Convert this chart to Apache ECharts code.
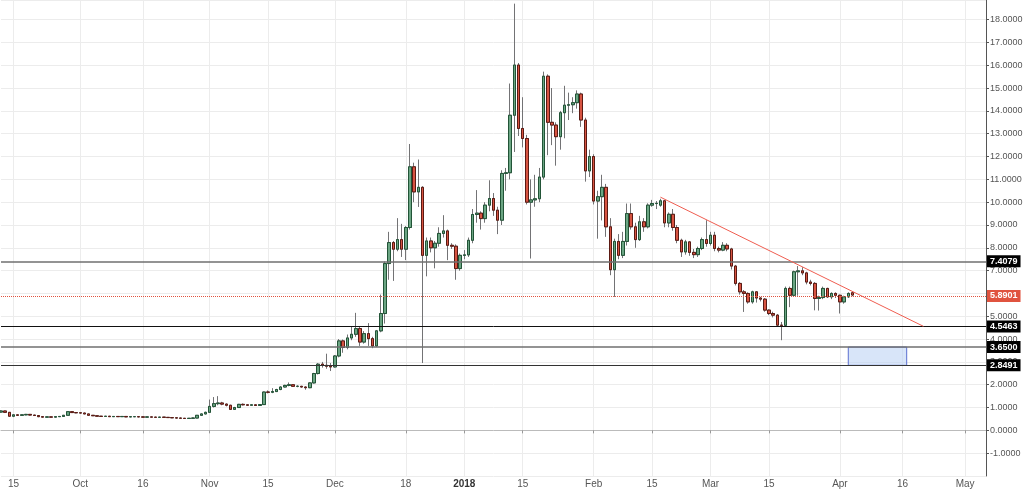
<!DOCTYPE html>
<html>
<head>
<meta charset="utf-8">
<title>Daily candles</title>
<script src="https://cdn.jsdelivr.net/npm/echarts@6/dist/echarts.min.js"></script>
<style>
  html, body { margin: 0; padding: 0; background: #fff; }
  #chart { width: 1024px; height: 491px; }
</style>
</head>
<body>
<div id="chart"></div>
<script>
// daily candles, one row per day: [open, close, low, high]
const sep17 = [
  [0.80,0.85,0.77,0.88],[0.85,0.79,0.76,0.86],[0.79,0.62,0.60,0.80],[0.62,0.68,0.58,0.70],
  [0.68,0.66,0.64,0.70],[0.66,0.68,0.64,0.70],[0.68,0.70,0.66,0.72],[0.70,0.67,0.65,0.71],
  [0.67,0.65,0.63,0.68],[0.65,0.60,0.58,0.66],[0.60,0.58,0.57,0.61],[0.58,0.59,0.57,0.60],
  [0.59,0.58,0.57,0.60],[0.58,0.60,0.57,0.61],[0.60,0.61,0.59,0.62],[0.61,0.66,0.60,0.67],
  [0.66,0.82,0.65,0.84],[0.82,0.78,0.76,0.84],[0.78,0.77,0.75,0.80]
]
const oct17 = [
  [0.77,0.76,0.74,0.79],[0.76,0.72,0.71,0.77],[0.72,0.66,0.65,0.73],[0.66,0.64,0.63,0.67],
  [0.64,0.62,0.61,0.65],[0.62,0.61,0.60,0.63],[0.61,0.62,0.60,0.63],[0.62,0.60,0.59,0.63],
  [0.60,0.61,0.59,0.62],[0.61,0.60,0.59,0.62],[0.60,0.61,0.59,0.62],[0.61,0.59,0.58,0.62],
  [0.59,0.60,0.58,0.61],[0.60,0.60,0.59,0.61],[0.60,0.59,0.58,0.61],[0.59,0.58,0.57,0.60],
  [0.58,0.59,0.57,0.60],[0.59,0.58,0.57,0.59],[0.58,0.57,0.56,0.59],[0.57,0.58,0.56,0.59],
  [0.58,0.57,0.56,0.58],[0.57,0.56,0.55,0.58],[0.56,0.55,0.54,0.57],[0.55,0.54,0.53,0.56],
  [0.54,0.53,0.52,0.55],[0.53,0.52,0.51,0.54],[0.52,0.53,0.51,0.54],[0.53,0.54,0.52,0.56],
  [0.54,0.66,0.53,0.67],[0.66,0.72,0.64,0.74],[0.72,0.79,0.70,0.82]
]
const nov17 = [
  [0.79,1.05,0.77,1.35],[1.05,1.17,1.00,1.46],[1.17,1.20,1.10,1.50],[1.20,1.15,1.10,1.25],
  [1.15,1.10,1.05,1.18],[1.10,0.92,0.90,1.12],[0.92,1.00,0.90,1.03],[1.00,1.14,0.98,1.16],
  [1.14,1.12,1.09,1.18],[1.12,1.10,1.07,1.15],[1.10,1.12,1.08,1.15],[1.12,1.09,1.07,1.15],
  [1.09,1.13,1.07,1.15],[1.13,1.68,1.12,1.70],[1.68,1.67,1.62,1.75],[1.67,1.70,1.63,1.85],
  [1.70,1.79,1.68,1.82],[1.79,1.90,1.76,1.93],[1.90,1.97,1.88,2.00],[1.97,2.00,1.93,2.10],
  [2.00,1.93,1.90,2.03],[1.93,1.93,1.89,1.97],[1.93,1.90,1.87,1.95],[1.90,1.87,1.78,1.93],
  [1.87,2.08,1.85,2.10],[2.08,2.49,2.05,2.52],[2.49,2.90,2.45,2.95],[2.90,2.85,2.75,3.00],
  [2.85,2.81,2.70,3.36],[2.81,2.78,2.60,2.95]
]
const dec17 = [
  [2.78,3.26,2.75,3.30],[3.26,3.92,3.20,4.00],[3.92,3.63,3.40,3.98],[3.63,4.05,3.55,4.20],
  [4.05,4.21,3.95,4.55],[4.21,4.46,4.10,5.15],[4.46,3.87,3.70,4.55],[3.87,4.24,3.80,4.35],
  [4.24,4.02,3.70,4.70],[4.02,3.70,3.60,4.10],[3.70,4.36,3.65,4.40],[4.36,5.12,4.30,5.95],
  [5.12,7.31,4.68,7.40],[7.31,8.23,6.60,8.70],[8.23,7.94,6.55,8.30],[7.94,8.36,7.85,9.30],
  [8.36,7.94,7.60,9.05],[7.94,8.89,7.46,8.95],[8.89,11.55,8.80,12.55],[11.55,10.45,10.00,11.73],
  [10.45,10.65,9.79,11.87],[10.65,7.67,2.95,10.70],[7.67,8.30,6.75,8.45],[8.30,8.00,7.80,8.45],
  [8.00,8.20,7.10,8.30],[8.20,8.63,8.05,8.90],[8.63,8.74,8.45,9.43],[8.74,8.11,7.46,8.80],
  [8.11,8.07,7.95,8.20],[8.07,7.09,6.60,8.15],[7.09,7.67,7.00,7.75]
]
const jan18 = [
  [7.67,7.69,7.50,7.90],[7.69,8.33,7.60,8.45],[8.33,9.46,8.20,9.70],[9.46,9.52,9.10,10.53],
  [9.52,9.28,8.80,9.60],[9.28,9.87,9.10,10.00],[9.87,10.16,9.60,10.96],[10.16,9.65,9.40,10.40],
  [9.65,9.21,8.60,9.80],[9.21,11.26,9.00,11.40],[11.26,11.29,10.50,11.50],[11.29,13.81,11.00,15.20],
  [13.81,16.01,12.20,18.70],[16.01,13.23,12.90,16.10],[13.23,12.79,12.40,14.60],[12.79,10.00,9.90,12.95],
  [10.00,10.10,7.53,11.00],[10.10,10.15,9.80,11.20],[10.15,11.10,10.00,11.50],[11.10,15.52,11.00,15.72],
  [15.52,13.50,12.06,15.60],[13.50,13.38,12.50,15.00],[13.38,12.87,11.60,13.50],[12.87,13.92,12.30,14.00],
  [13.92,14.25,12.80,15.10],[14.25,14.27,13.60,14.80],[14.27,14.36,13.90,14.60],[14.36,14.74,14.10,14.90],
  [14.74,13.60,13.30,14.80],[13.60,11.37,10.90,13.70],[11.37,12.00,11.10,12.30]
]
const feb18 = [
  [12.00,10.05,9.90,12.10],[10.05,10.24,8.40,10.50],[10.24,10.65,9.20,11.20],[10.65,8.92,8.48,10.80],
  [8.92,7.04,6.80,9.30],[7.04,8.28,5.85,8.40],[8.28,7.67,7.50,8.60],[7.67,8.28,7.55,8.70],
  [8.28,9.50,8.10,9.94],[9.50,8.92,8.80,9.94],[8.92,8.36,8.00,9.10],[8.36,9.14,8.30,9.40],
  [9.14,8.92,8.70,9.30],[8.92,9.87,8.85,9.95],[9.87,9.94,9.80,10.10],[9.94,9.95,9.70,10.05],
  [9.87,10.06,9.80,10.15],[10.06,9.09,8.90,10.10],[9.09,9.47,8.90,9.55],[9.47,8.89,8.75,9.70],
  [8.89,8.33,8.20,9.00],[8.33,7.82,7.60,8.40],[7.82,8.26,7.70,8.35],[8.26,7.80,7.65,8.30],
  [7.80,7.70,7.55,7.95],[7.70,7.97,7.60,8.05],[7.97,8.36,7.90,8.45],[8.36,8.19,8.05,9.21]
]
const mar18 = [
  [8.19,8.55,8.10,8.70],[8.55,7.97,7.85,8.70],[7.97,7.90,7.80,8.05],[7.90,8.11,7.85,8.25],
  [8.11,7.95,7.85,8.20],[7.95,7.20,7.05,8.00],[7.20,6.44,6.35,7.25],[6.44,6.07,5.95,6.50],
  [6.07,6.00,5.19,6.15],[6.00,5.63,5.55,6.05],[5.63,6.07,5.55,6.12],[6.07,5.80,5.60,6.10],
  [5.80,5.75,5.65,5.85],[5.75,5.27,5.20,5.80],[5.27,5.12,5.05,5.30],[5.12,5.05,4.95,5.20],
  [5.05,4.61,4.55,5.10],[4.61,4.60,3.95,4.75],[4.60,6.22,4.55,6.30],[6.22,5.92,5.40,6.30],
  [5.92,6.95,5.85,7.00],[6.95,6.99,5.90,7.20],[6.99,6.90,6.80,7.15],[6.90,6.50,6.40,6.95],
  [6.50,6.44,6.35,6.60],[6.44,5.78,5.26,6.50],[5.78,5.82,5.25,5.90],[5.82,6.22,5.75,6.30],
  [6.22,5.85,5.80,6.25],[5.85,6.00,5.75,6.05],[6.00,5.92,5.80,6.05]
]
const apr18 = [
  [5.92,5.63,5.12,5.95],[5.63,5.85,5.55,5.90],[5.85,6.00,5.80,6.05],[6.03,5.93,5.88,6.08]
]

// horizontal levels drawn on the chart
const levels = [7.4079, 4.5463, 3.6500, 2.8491]
const lastPrice = 5.8901
// falling trend line and target box: [date, price]
const trendLine = [['2018-02-17', 10.22], ['2018-04-21', 4.56]]
const targetBox = [['2018-04-03', 3.6500], ['2018-04-17', 2.8491]]
// date ticks on the time axis
const tickLabels = [
  ['2017-09-15', '15'], ['2017-10-01', 'Oct'], ['2017-10-16', '16'], ['2017-11-01', 'Nov'],
  ['2017-11-15', '15'], ['2017-12-01', 'Dec'], ['2017-12-18', '18'], ['2018-01-01', '2018'],
  ['2018-01-15', '15'], ['2018-02-01', 'Feb'], ['2018-02-15', '15'], ['2018-03-01', 'Mar'],
  ['2018-03-15', '15'], ['2018-04-01', 'Apr'], ['2018-04-16', '16'], ['2018-05-01', 'May']
]

const candles = [].concat(sep17, oct17, nov17, dec17, jan18, feb18, mar18, apr18)
// bodies only, so the wicks can be drawn grey underneath
const bodies = candles.map(([o, c]) => [o, c, Math.min(o, c), Math.max(o, c)])

// one category per calendar day, running past the last candle
const days = []
for (let i = 0; i <= 236; i++) {
  days.push(new Date(Date.UTC(2017, 8, 12 + i)).toISOString().slice(0, 10))
}
const tickMap = {}
tickLabels.forEach(([d, t]) => { tickMap[d] = t })
const isTick = (idx, val) => tickMap[val] !== undefined

const levelColors = ['#6f6f6f', '#111111', '#6f6f6f', '#333333']
const levelWidths = [1.5, 1, 1.5, 1.2]
const tagLabel = (bg, v) => ({
  show: true,
  position: 'end',
  distance: 1,
  backgroundColor: bg,
  color: '#fff',
  fontSize: 9,
  fontWeight: 'bold',
  padding: [2, 3, 1, 3],
  formatter: () => v.toFixed(4)
})

const lines = levels.map((v, k) => ({
  yAxis: v,
  lineStyle: { color: levelColors[k], width: levelWidths[k], type: 'solid' },
  label: tagLabel('#000', v)
}))
lines.push({
  yAxis: lastPrice,
  lineStyle: { color: '#e0533f', width: 1, type: 'dotted' },
  label: tagLabel('#e0533f', lastPrice)
})
lines.push([
  { coord: trendLine[0], lineStyle: { color: '#ef5d50', width: 1, type: 'solid' }, label: { show: false } },
  { coord: trendLine[1] }
])

const chart = echarts.init(document.getElementById('chart'))
chart.setOption({
  animation: false,
  textStyle: { fontFamily: 'Liberation Sans, Arial, sans-serif' },
  grid: { left: 1, right: 38, top: 0, bottom: 15, outerBoundsMode: 'none' },
  xAxis: {
    type: 'category',
    data: days,
    boundaryGap: false,
    axisLine: { show: true, lineStyle: { color: '#bbbbbb' } },
    axisTick: { show: true, interval: isTick, length: 3, lineStyle: { color: '#999' } },
    axisLabel: {
      interval: isTick,
      margin: 3,
      color: '#555',
      fontSize: 10,
      formatter: v => (tickMap[v] === '2018' ? '{b|2018}' : tickMap[v]),
      rich: { b: { fontWeight: 'bold', fontSize: 10, color: '#333' } }
    },
    splitLine: { show: true, interval: isTick, lineStyle: { color: '#ececec' } }
  },
  yAxis: {
    type: 'value',
    position: 'right',
    min: -2,
    max: 18.86,
    interval: 1,
    axisLine: { show: true, lineStyle: { color: '#555' } },
    axisTick: { show: true, length: 3, lineStyle: { color: '#555' } },
    axisLabel: {
      color: '#555',
      fontSize: 9,
      margin: 4,
      showMinLabel: false,
      showMaxLabel: false,
      formatter: v => v.toFixed(4)
    },
    splitLine: { lineStyle: { color: '#ececec' } }
  },
  series: [
    {
      name: 'wicks',
      type: 'candlestick',
      data: candles,
      barWidth: 3,
      silent: true,
      itemStyle: {
        color: '#737375', color0: '#737375',
        borderColor: '#737375', borderColor0: '#737375', borderWidth: 1
      }
    },
    {
      name: 'price',
      type: 'candlestick',
      data: bodies,
      barWidth: 3,
      silent: true,
      itemStyle: {
        color: '#6ba583', color0: '#d75442',
        borderColor: '#225437', borderColor0: '#5b1a13', borderWidth: 1
      },
      markLine: {
        silent: true,
        symbol: ['none', 'none'],
        precision: 4,
        animation: false,
        data: lines
      },
      markArea: {
        silent: true,
        itemStyle: { color: 'rgba(190,212,245,0.6)', borderColor: '#5b6fd0', borderWidth: 1 },
        data: [[{ coord: targetBox[0] }, { coord: targetBox[1] }]]
      }
    }
  ]
})
</script>
</body>
</html>
